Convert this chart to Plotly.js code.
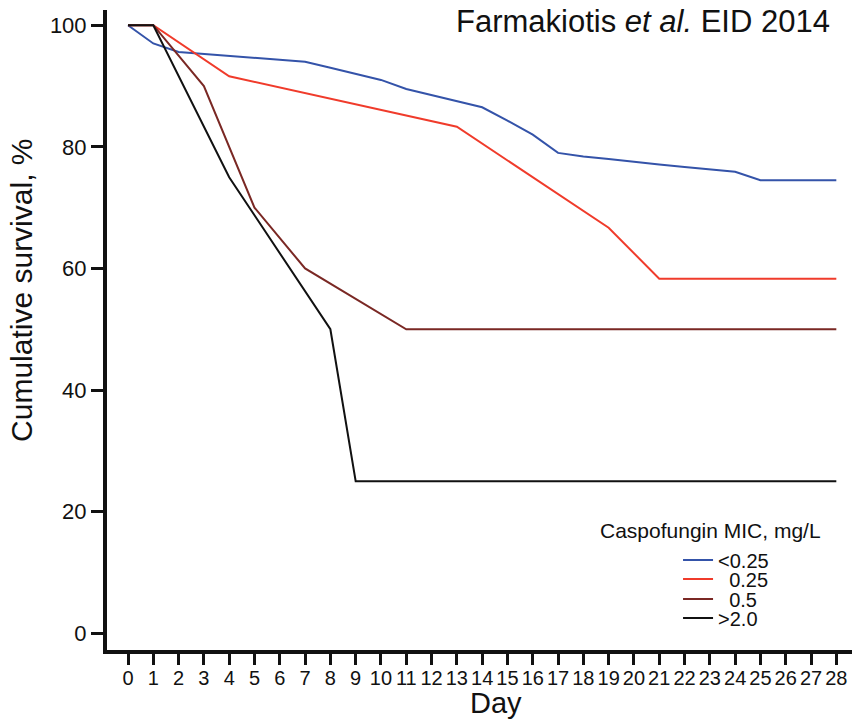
<!DOCTYPE html>
<html>
<head>
<meta charset="utf-8">
<script src="https://cdn.plot.ly/plotly-3.0.1.min.js"></script>
<style>
  html, body { margin: 0; padding: 0; background: #ffffff; }
  #chart { width: 852px; height: 719px; }
</style>
</head>
<body>
<div id="chart"></div>
<script>
// ---- data ----
const seriesNames = ['<0.25', '\u00a0\u00a00.25', '\u00a0\u00a00.5', '>2.0'];

const daysLt025 = [0, 1, 2, 3, 4, 5, 6, 7, 8, 9, 10, 11, 12, 13, 14, 15, 16, 17, 18, 19, 20, 21, 22, 23, 24, 25, 26, 27, 28];
const survLt025 = [100, 97, 95.6, 95.3, 95, 94.7, 94.3, 94, 93, 92, 91, 89.5, 88.5, 87.5, 86.5, 84.3, 82, 79, 78.4, 78, 77.5, 77.1, 76.7, 76.3, 75.9, 74.5, 74.5, 74.5, 74.5];

const days025 = [0, 1, 4, 13, 19, 21, 28];
const surv025 = [100, 100, 91.6, 83.3, 66.7, 58.3, 58.3];

const days05 = [0, 1, 3, 5, 7, 11, 28];
const surv05 = [100, 100, 90, 70, 60, 50, 50];

const daysGt2 = [0, 1, 4, 8, 9, 28];
const survGt2 = [100, 100, 75, 50, 25, 25];

const xTickVals = [0, 1, 2, 3, 4, 5, 6, 7, 8, 9, 10, 11, 12, 13, 14, 15, 16, 17, 18, 19, 20, 21, 22, 23, 24, 25, 26, 27, 28];
const yTickVals = [0, 20, 40, 60, 80, 100];

const chartTitle = 'Farmakiotis <i>et al.</i> EID 2014';
const xTitle = 'Day';
const yTitle = 'Cumulative survival, %';
const legendTitle = 'Caspofungin MIC, mg/L';

// ---- styling ----
const FONT = 'Arial, "Liberation Sans", Helvetica, sans-serif';
const colors = ['#3453a9', '#f03b2b', '#7a2824', '#111111'];
const xs = [daysLt025, days025, days05, daysGt2];
const ys = [survLt025, surv025, surv05, survGt2];
const legendIds = ['legend', 'legend2', 'legend3', 'legend4'];
const legendY = [0.1406, 0.1109, 0.0797, 0.05];

const traces = xs.map((x, i) => ({
  type: 'scatter',
  mode: 'lines',
  x: x,
  y: ys[i],
  name: seriesNames[i],
  legend: legendIds[i],
  line: { color: colors[i], width: 2 },
  hoverinfo: 'skip'
}));

const layout = {
  width: 852,
  height: 719,
  margin: { l: 107, r: 0, t: 10, b: 69, pad: 0 },
  paper_bgcolor: '#ffffff',
  plot_bgcolor: '#ffffff',
  font: { family: FONT, color: '#111111' },
  showlegend: true,
  xaxis: {
    range: [-0.83, 28.62],
    tickmode: 'array',
    tickvals: xTickVals,
    ticktext: xTickVals.map(String),
    tickangle: 0,
    ticks: 'outside',
    ticklen: 11,
    tickwidth: 3,
    tickcolor: '#111111',
    ticklabelstandoff: -4,
    showline: true,
    linewidth: 4,
    linecolor: '#111111',
    showgrid: false,
    zeroline: false,
    tickfont: { family: FONT, size: 20, color: '#111111' },
    fixedrange: true
  },
  yaxis: {
    range: [-2.75, 102.5],
    tickmode: 'array',
    tickvals: yTickVals,
    ticktext: yTickVals.map(String),
    ticks: 'outside',
    ticklen: 12,
    tickwidth: 3,
    tickcolor: '#111111',
    showline: true,
    linewidth: 4,
    linecolor: '#111111',
    showgrid: false,
    zeroline: false,
    tickfont: { family: FONT, size: 22, color: '#111111' },
    fixedrange: true
  },
  annotations: [
    {
      text: chartTitle, xref: 'paper', yref: 'paper',
      x: 0.9732, y: 1.0125, xanchor: 'right', yanchor: 'top',
      showarrow: false, font: { family: FONT, size: 31, color: '#111111' }
    },
    {
      text: yTitle, xref: 'paper', yref: 'paper', textangle: -90,
      x: -0.1155, y: 0.5625, xanchor: 'center', yanchor: 'middle',
      showarrow: false, font: { family: FONT, size: 30, color: '#111111' }
    },
    {
      text: xTitle, xref: 'paper', yref: 'paper',
      x: (496 - 107) / 745, y: -0.0828, xanchor: 'center', yanchor: 'middle',
      showarrow: false, font: { family: FONT, size: 29, color: '#111111' }
    },
    {
      text: legendTitle, xref: 'paper', yref: 'paper',
      x: 0.8094, y: 0.1875, xanchor: 'center', yanchor: 'middle',
      showarrow: false, font: { family: FONT, size: 21, color: '#111111' }
    }
  ]
};

legendIds.forEach((id, i) => {
  layout[id] = {
    x: 0.7665, xanchor: 'left',
    y: legendY[i], yanchor: 'middle',
    bgcolor: 'rgba(0,0,0,0)',
    borderwidth: 0,
    font: { family: FONT, size: 20, color: '#111111' }
  };
});

Plotly.newPlot('chart', traces, layout, { displayModeBar: false, staticPlot: true });
</script>
</body>
</html>
